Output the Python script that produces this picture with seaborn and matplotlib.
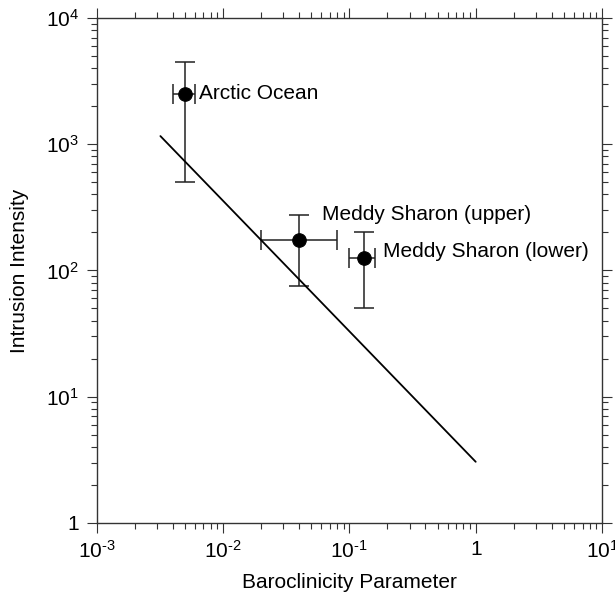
import numpy as np
import pandas as pd
import seaborn as sns
import matplotlib.pyplot as plt

# data
names = ['Arctic Ocean', 'Meddy Sharon (upper)', 'Meddy Sharon (lower)']
baroc = [0.005, 0.04, 0.13]
intensity = [2500, 175, 125]
x_lo = [0.004, 0.02, 0.10]
x_hi = [0.006, 0.08, 0.16]
y_lo = [500, 75, 50]
y_hi = [4500, 275, 200]

# scaling line endpoints
line_x = [0.0032, 1.0]
line_y = [1160, 3.05]

x_ticks = [1e-3, 1e-2, 1e-1, 1, 10]
x_ticklabels = [r'$10^{\text{-}3}$', r'$10^{\text{-}2}$', r'$10^{\text{-}1}$', '1', '$10^{1}$']
y_ticks = [1, 10, 100, 1000, 10000]
y_ticklabels = ['1', '$10^{1}$', '$10^{2}$', '$10^{3}$', '$10^{4}$']

sns.set_style('ticks')
plt.rcParams['font.family'] = ['Liberation Sans', 'DejaVu Sans']
plt.rcParams['mathtext.fontset'] = 'custom'
plt.rcParams['mathtext.rm'] = 'Liberation Sans'
plt.rcParams['mathtext.it'] = 'Liberation Sans'
plt.rcParams['mathtext.default'] = 'regular'
plt.rcParams['text.color'] = 'black'
plt.rcParams['axes.labelcolor'] = 'black'
plt.rcParams['xtick.color'] = 'black'
plt.rcParams['ytick.color'] = 'black'

df = pd.DataFrame({'name': names, 'x': baroc, 'y': intensity})
line_df = pd.DataFrame({'x': line_x, 'y': line_y})

fig = plt.figure(figsize=(6.15, 5.99), dpi=100)
ax = fig.add_axes([0.157, 0.127, 0.822, 0.843])

xerr = [np.array(baroc) - np.array(x_lo), np.array(x_hi) - np.array(baroc)]
yerr = [np.array(intensity) - np.array(y_lo), np.array(y_hi) - np.array(intensity)]
ax.errorbar(baroc, intensity, xerr=xerr, yerr=yerr, fmt='none',
            ecolor='#222222', elinewidth=1.1, capsize=7, capthick=1.1)

sns.lineplot(data=line_df, x='x', y='y', color='black', linewidth=1.3, ax=ax)
sns.scatterplot(data=df, x='x', y='y', s=95, color='black', edgecolor='black',
                zorder=5, ax=ax)

offsets = [(14, 0), (23, 25), (19, 7)]
for (n, xv, yv), off in zip(zip(names, baroc, intensity), offsets):
    ax.annotate(n, (xv, yv), xytext=off, textcoords='offset pixels',
                ha='left', va='center', fontsize=15, color='black')

ax.set_xscale('log')
ax.set_yscale('log')
ax.set_xlim(1e-3, 10)
ax.set_ylim(1, 1e4)
ax.set_xticks(x_ticks)
ax.set_xticklabels(x_ticklabels)
ax.set_yticks(y_ticks)
ax.set_yticklabels(y_ticklabels)

ax.tick_params(which='both', direction='out', top=True, right=True,
               labeltop=False, labelright=False, width=0.8, color='#333333',
               labelcolor='black')
ax.tick_params(which='major', length=7.5, labelsize=15, pad=5)
ax.tick_params(which='minor', length=4)
for sp in ax.spines.values():
    sp.set_linewidth(1.0)
    sp.set_color('#333333')

ax.set_xlabel('Baroclinicity Parameter', fontsize=15, labelpad=8)
ax.set_ylabel('Intrusion Intensity', fontsize=15, labelpad=12)

fig.savefig('out.png', dpi=100)
